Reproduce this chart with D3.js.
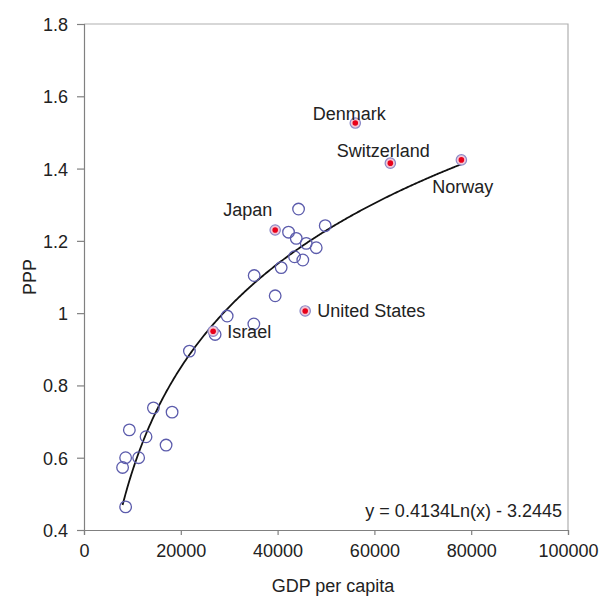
<!DOCTYPE html>
<html><head><meta charset="utf-8">
<script src="https://cdn.jsdelivr.net/npm/d3@7"></script>
<style>body{margin:0;background:#fff;} text{font-family:"Liberation Sans",Arial,sans-serif;}</style>
</head><body>
<svg id="c" width="603" height="596"></svg>
<script>
// Data
const gdp = [44330,42260,43850,45920,49840,47980,43500,45210,40740,35160,39500,29580,35090,27090,21780,14340,18200,9370,12820,16960,8600,11290,7970,8600];
const ppp = [1.288,1.224,1.207,1.193,1.242,1.181,1.156,1.147,1.126,1.104,1.048,0.992,0.970,0.941,0.895,0.738,0.726,0.677,0.658,0.635,0.600,0.600,0.573,0.464];
const namedCountries = ["Denmark","Switzerland","Norway","Japan","United States","Israel"];
const namedGdp = [56050,63290,77970,39500,45700,26680];
const namedPpp = [1.526,1.415,1.424,1.230,1.006,0.950];
const xTicks = [0,20000,40000,60000,80000,100000];
const yTicks = [0.4,0.6,0.8,1.0,1.2,1.4,1.6,1.8];
const fitA = 0.4134, fitB = -3.2445;
const equation = "y = 0.4134Ln(x) - 3.2445";

const svg = d3.select("#c");
const L=84, R=568, T=24, B=530;
const FS = 18;
const x = d3.scaleLinear().domain([0,100000]).range([L,R]);
const y = d3.scaleLinear().domain([0.4,1.8]).range([B,T]);

// plot border (top/right)
svg.append("path").attr("d",`M${L},${T}H${R}V${B}`).attr("fill","none").attr("stroke","#b0b0b0").attr("stroke-width",1.2);

const xAxis = svg.append("g").attr("transform",`translate(0,${B})`)
  .call(d3.axisBottom(x).tickValues(xTicks).tickFormat(d3.format("d")).tickSize(5).tickPadding(9));
const yAxis = svg.append("g").attr("transform",`translate(${L},0)`)
  .call(d3.axisLeft(y).tickValues(yTicks).tickFormat(d=>d===1?"1":d3.format(".1f")(d)).tickSize(7).tickPadding(9));
[xAxis,yAxis].forEach(g=>{
  g.selectAll("path,line").attr("stroke","#808080").attr("stroke-width",1.2);
  g.selectAll("text").attr("font-size",FS).attr("fill","#222").style("font-family","Liberation Sans, Arial, sans-serif");
});
yAxis.selectAll("text").attr("dy","0.36em");

// trend curve
const xs = d3.range(d3.min(gdp.concat(namedGdp)), d3.max(gdp.concat(namedGdp))+1, 200);
svg.append("path").datum(xs)
  .attr("d", d3.line().x(d=>x(d)).y(d=>y(fitA*Math.log(d)+fitB)))
  .attr("fill","none").attr("stroke","#111").attr("stroke-width",1.8);

// open circles
svg.selectAll("circle.o").data(gdp).enter().append("circle")
  .attr("cx",(d)=>x(d)).attr("cy",(d,i)=>y(ppp[i])).attr("r",5.8)
  .attr("fill","none").attr("stroke","#5c5cac").attr("stroke-width",1.3);

// highlighted
const hl = svg.selectAll("g.h").data(namedGdp).enter().append("g");
hl.append("circle").attr("cx",d=>x(d)).attr("cy",(d,i)=>y(namedPpp[i])).attr("r",5.2)
  .attr("fill","#f4c6d4").attr("stroke","#8a8ac8").attr("stroke-width",1.2);
hl.append("circle").attr("cx",d=>x(d)).attr("cy",(d,i)=>y(namedPpp[i])).attr("r",2.8).attr("fill","#e8001a");

// labels (offsets relative to point)
const off = [[-6,-3,"middle"],[-7,-6,"middle"],[-29,33,"start"],[-3,-14,"end"],[12,6,"start"],[14,7,"start"]];
svg.selectAll("text.lab").data(namedCountries).enter().append("text")
  .attr("x",(d,i)=>x(namedGdp[i])+off[i][0]).attr("y",(d,i)=>y(namedPpp[i])+off[i][1])
  .attr("text-anchor",(d,i)=>off[i][2]).attr("font-size",FS).attr("fill","#222").text(d=>d);

svg.append("text").attr("x",R-6).attr("y",B-13).attr("text-anchor","end").attr("font-size",FS).attr("fill","#222").text(equation);

svg.append("text").attr("x",333).attr("y",592).attr("text-anchor","middle").attr("font-size",FS).attr("fill","#222").text("GDP per capita");
svg.append("text").attr("transform",`translate(36,${(T+B)/2}) rotate(-90)`).attr("text-anchor","middle").attr("font-size",FS).attr("fill","#222").text("PPP");
</script>
</body></html>
